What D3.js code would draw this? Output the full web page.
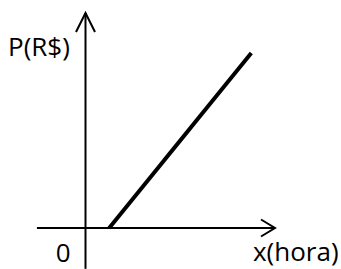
<!DOCTYPE html>
<html>
<head>
<meta charset="utf-8">
<script src="https://cdn.jsdelivr.net/npm/d3@7"></script>
<style>
  html, body { margin: 0; padding: 0; background: #fff; }
  svg { display: block; }
  text { font-family: "Open Sans", sans-serif; font-size: 26px; fill: #000; }
</style>
</head>
<body>
<div id="chart"></div>
<script>
// data
const hours = [1, 7];          // x(hora)
const prices = [0, 6];         // P(R$)
const xExtent = [-2.05, 8];    // axis span
const yExtent = [-1.4, 7.37];
const labels = { y: "P(R$)", x: "x(hora)", origin: "0" };

const width = 341, height = 269;

const svg = d3.select("#chart").append("svg")
  .attr("width", width)
  .attr("height", height);

const x = d3.scaleLinear().domain([0, 8]).range([85.5, 275]);
const y = d3.scaleLinear().domain([0, 6]).range([228, 53]);

const axes = svg.append("g")
  .attr("stroke", "#000")
  .attr("stroke-width", 2)
  .attr("fill", "none");

// x axis + arrow
axes.append("line")
  .attr("x1", x(xExtent[0])).attr("y1", y(0))
  .attr("x2", x(xExtent[1])).attr("y2", y(0));
axes.append("path")
  .attr("d", d3.line()([
    [x(xExtent[1]) - 14, y(0) - 8.5],
    [x(xExtent[1]), y(0)],
    [x(xExtent[1]) - 14, y(0) + 8.5]
  ]));

// y axis + arrow
axes.append("line")
  .attr("x1", x(0)).attr("y1", y(yExtent[0]))
  .attr("x2", x(0)).attr("y2", y(yExtent[1]));
axes.append("path")
  .attr("d", d3.line()([
    [x(0) - 9.5, y(yExtent[1]) + 19],
    [x(0), y(yExtent[1])],
    [x(0) + 9.5, y(yExtent[1]) + 19]
  ]));

// the price line
svg.append("path")
  .datum(hours.map((h, i) => [h, prices[i]]))
  .attr("fill", "none")
  .attr("stroke", "#000")
  .attr("stroke-width", 4)
  .attr("d", d3.line().x(d => x(d[0])).y(d => y(d[1])));

// labels
svg.append("text")
  .attr("x", 8)
  .attr("y", y(yExtent[1]) + 43)
  .text(labels.y);

svg.append("text")
  .attr("x", x(0) - 15)
  .attr("y", y(0) + 34)
  .attr("text-anchor", "end")
  .text(labels.origin);

svg.append("text")
  .attr("x", x(xExtent[1]) - 22)
  .attr("y", y(0) + 33)
  .text(labels.x);
</script>
</body>
</html>
